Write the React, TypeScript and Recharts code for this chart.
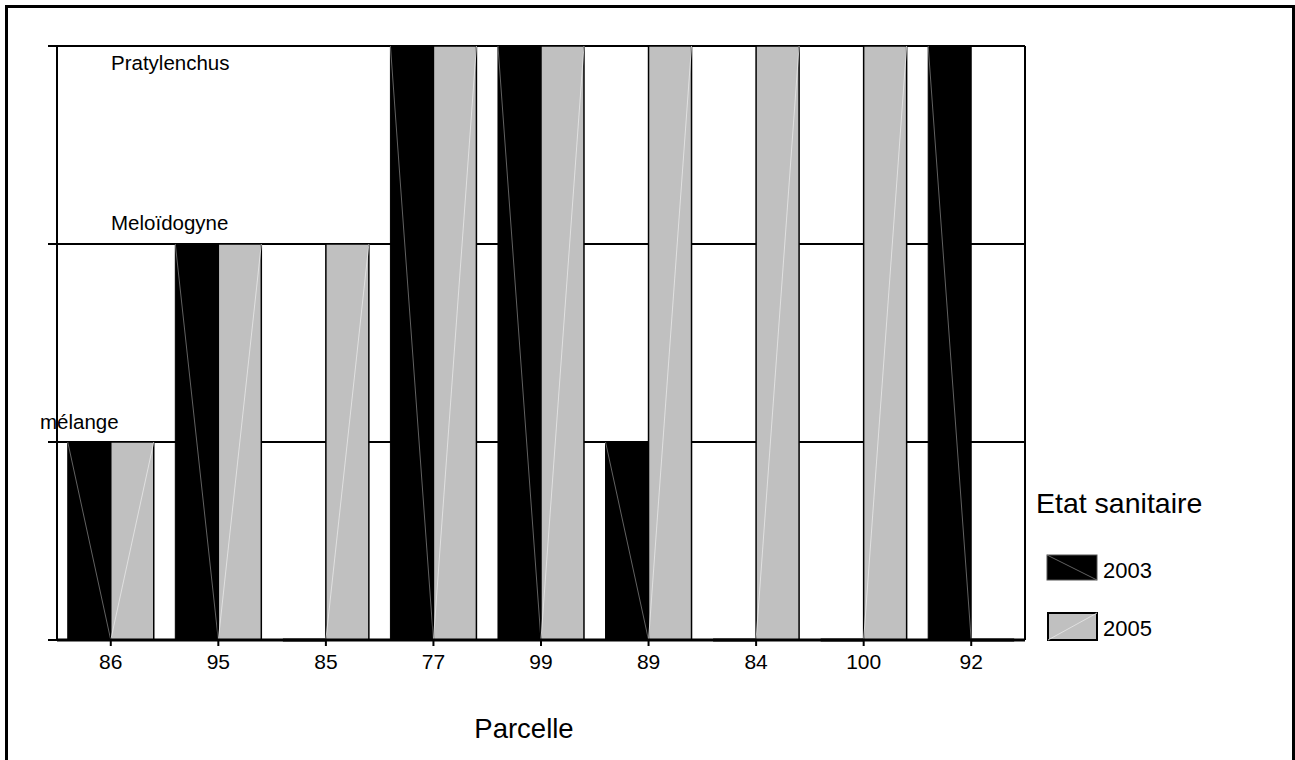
import React from 'react';
import { BarChart, Bar, XAxis, YAxis, CartesianGrid, Legend } from 'recharts';

const parcelles = ['86', '95', '85', '77', '99', '89', '84', '100', '92'];
const etat2003 = [1, 2, 0, 3, 3, 1, 0, 0, 3];
const etat2005 = [1, 2, 2, 3, 3, 3, 3, 3, 0];
const etatLabels = ['', 'mélange', 'Meloïdogyne', 'Pratylenchus'];
const etatTicks = [0, 1, 2, 3];
const seriesNames = ['2003', '2005'];
const legendTitle = 'Etat sanitaire';
const axisTitle = 'Parcelle';

const data = parcelles.map((p, i) => ({ parcelle: p, s2003: etat2003[i], s2005: etat2005[i] }));

const FONT = '"Liberation Sans", Arial, Helvetica, sans-serif';
const BLACK = '#000000';
const GREY = '#c0c0c0';

const makeShape = (fill: string, diagColor: string, down: boolean, sw: number) => (props: any) => {
  const { x, y, width, height } = props;
  if (!height || Math.abs(height) < 0.5) {
    return <line x1={x} x2={x + width} y1={y} y2={y} stroke={BLACK} strokeWidth={3} />;
  }
  return (
    <g>
      <rect x={x} y={y} width={width} height={height} fill={fill} stroke={BLACK} strokeWidth={sw} />
      <line
        x1={x}
        y1={down ? y : y + height}
        x2={x + width}
        y2={down ? y + height : y}
        stroke={diagColor}
        strokeWidth={0.8}
      />
    </g>
  );
};

const shape2003 = makeShape(BLACK, '#7a7a7a', true, 1);
const shape2005 = makeShape(GREY, '#e8e8e8', false, 1.5);

const labelPos: Record<number, { x: number; dy: number }> = {
  1: { x: 40, dy: -13 },
  2: { x: 111, dy: -14 },
  3: { x: 111, dy: 24 },
};

const YTick = (props: any) => {
  const { y, payload } = props;
  const v = Number(payload.value);
  const label = etatLabels[v];
  if (!label) return <g />;
  const p = labelPos[v];
  return (
    <text x={p.x} y={y + p.dy} fontSize={20.5} fontFamily={FONT} fill={BLACK} textAnchor="start">
      {label}
    </text>
  );
};

const XTick = (props: any) => {
  const { x, y, payload } = props;
  return (
    <text x={x} y={y + 23} fontSize={21} fontFamily={FONT} fill={BLACK} textAnchor="middle">
      {payload.value}
    </text>
  );
};

const LegendContent = () => (
  <svg width={262} height={180} style={{ display: 'block' }}>
    <text x={6} y={33} fontSize={28.5} fontFamily={FONT} fill={BLACK}>
      {legendTitle}
    </text>
    <rect x={17} y={75} width={50} height={25} fill={BLACK} stroke="#555" strokeWidth={1} />
    <line x1={17} y1={75} x2={67} y2={100} stroke="#7a7a7a" strokeWidth={0.8} />
    <text x={73} y={98} fontSize={22} fontFamily={FONT} fill={BLACK}>
      {seriesNames[0]}
    </text>
    <rect x={18} y={133} width={49} height={27} fill={GREY} stroke={BLACK} strokeWidth={2} />
    <line x1={18} y1={160} x2={67} y2={133} stroke="#e8e8e8" strokeWidth={0.8} />
    <text x={73} y={156} fontSize={22} fontFamily={FONT} fill={BLACK}>
      {seriesNames[1]}
    </text>
  </svg>
);

export default function App() {
  return (
    <div
      style={{
        position: 'absolute',
        left: 0,
        top: 0,
        width: 1295,
        height: 760,
        overflow: 'hidden',
        background: '#ffffff',
        fontFamily: FONT,
      }}
    >
      <div
        style={{
          position: 'absolute',
          left: 5,
          top: 5,
          width: 1290,
          height: 820,
          boxSizing: 'border-box',
          border: '3px solid #000',
        }}
      />
      <div style={{ position: 'absolute', left: 0, top: 0 }}>
        <BarChart
          width={1295}
          height={760}
          data={data}
          margin={{ top: 46, right: 270, bottom: 0, left: 47 }}
          barCategoryGap="10%"
          barGap={0}
        >
          <CartesianGrid
            stroke={BLACK}
            strokeWidth={2}
            horizontal={true}
            vertical={true}
            verticalCoordinatesGenerator={({ offset }: any) => [offset.left, offset.left + offset.width]}
          />
          <XAxis
            dataKey="parcelle"
            height={120}
            axisLine={{ stroke: BLACK, strokeWidth: 3 }}
            tickLine={{ stroke: BLACK, strokeWidth: 2 }}
            tickSize={6}
            tickMargin={0}
            tick={<XTick />}
            interval={0}
            label={{
              content: ({ viewBox }: any) => (
                <text
                  x={viewBox.x + viewBox.width / 2 - 17}
                  y={viewBox.y + 98}
                  fontSize={27.5}
                  fontFamily={FONT}
                  fill={BLACK}
                  textAnchor="middle"
                >
                  {axisTitle}
                </text>
              ),
            }}
          />
          <YAxis
            type="number"
            width={10}
            domain={[0, 3]}
            ticks={etatTicks}
            interval={0}
            axisLine={false}
            tickLine={{ stroke: BLACK, strokeWidth: 2 }}
            tickSize={9}
            tickMargin={0}
            tick={<YTick />}
          />
          <Legend
            layout="horizontal"
            align="center"
            verticalAlign="middle"
            wrapperStyle={{ left: 1030, top: 480, width: 262, height: 180 }}
            content={() => <LegendContent />}
          />
          <Bar dataKey="s2003" name={seriesNames[0]} isAnimationActive={false} shape={shape2003} />
          <Bar dataKey="s2005" name={seriesNames[1]} isAnimationActive={false} shape={shape2005} />
        </BarChart>
      </div>
    </div>
  );
}
